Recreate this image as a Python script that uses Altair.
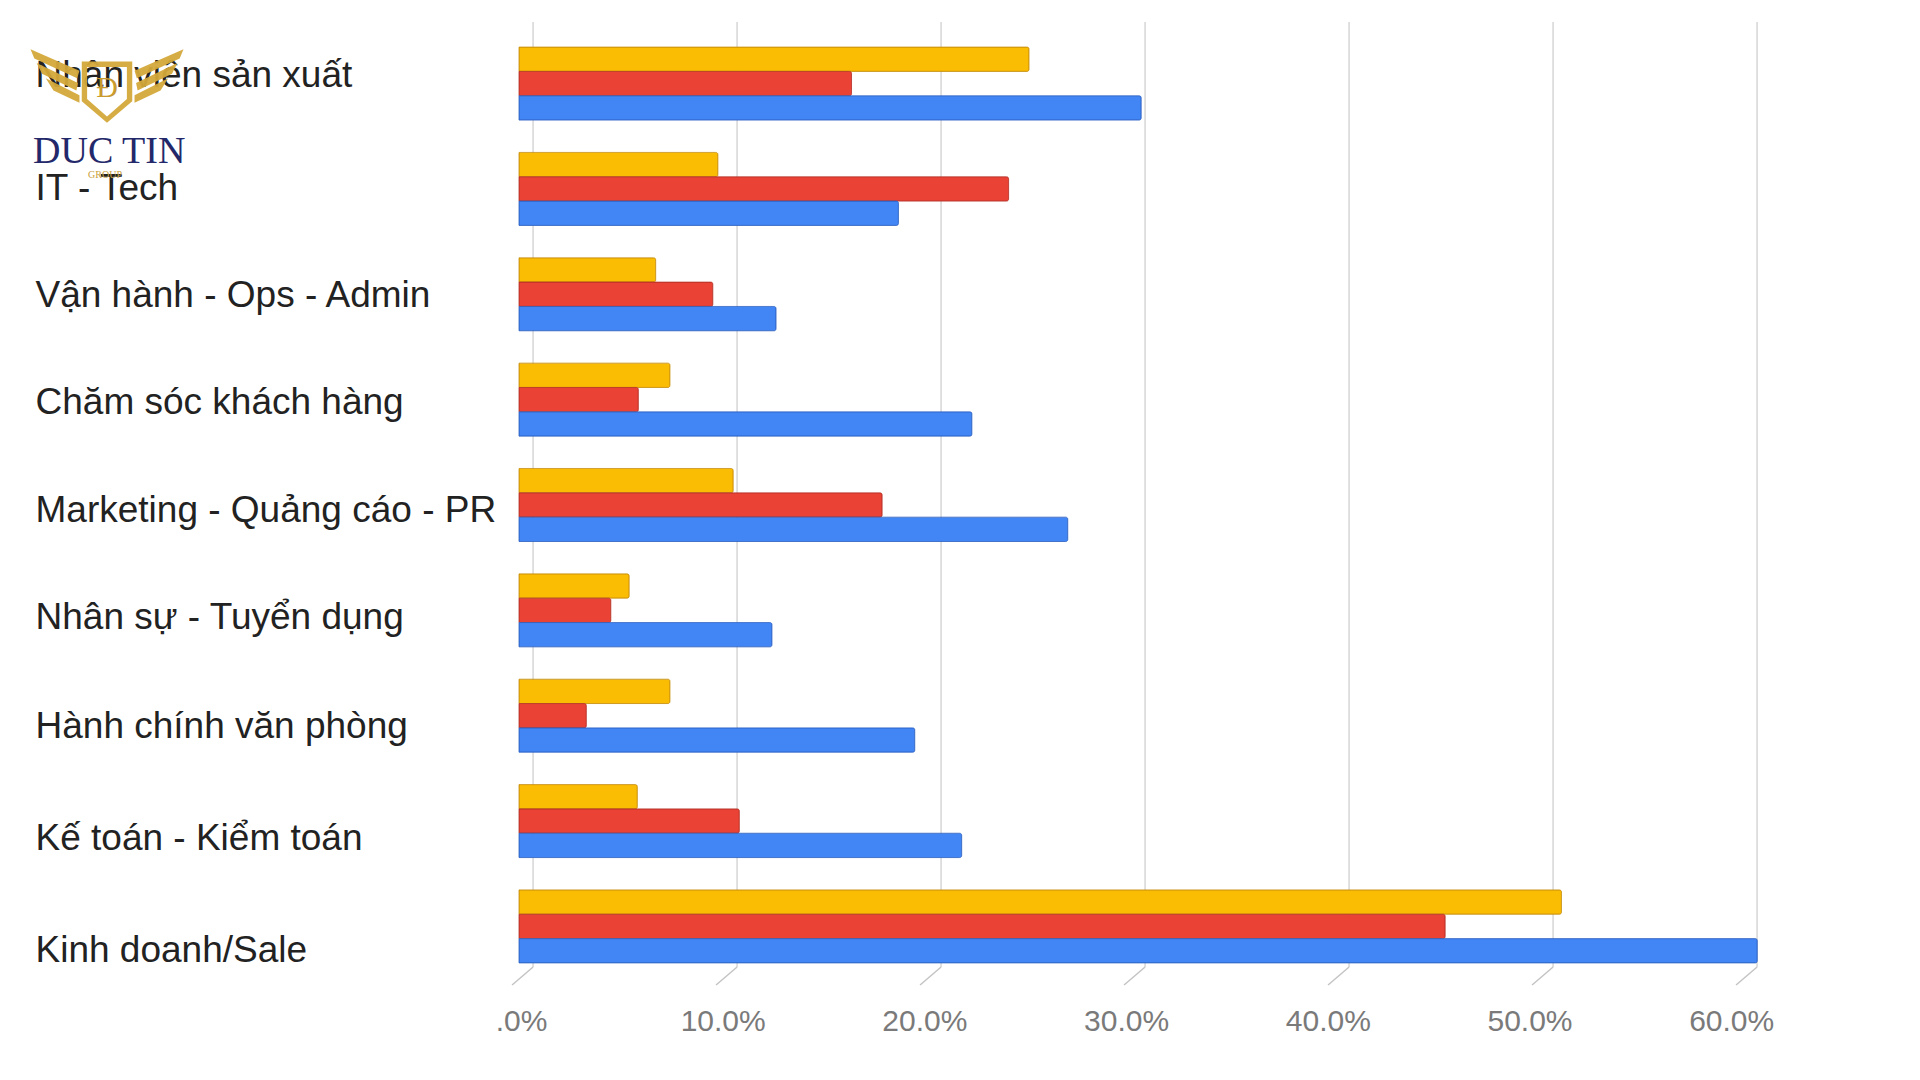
import altair as alt
import pandas as pd

categories = [
    "Nhân viên sản xuất",
    "IT - Tech",
    "Vận hành - Ops - Admin",
    "Chăm sóc khách hàng",
    "Marketing - Quảng cáo - PR",
    "Nhân sự - Tuyển dụng",
    "Hành chính văn phòng",
    "Kế toán - Kiểm toán",
    "Kinh doanh/Sale",
]
series_names = ["Series 1", "Series 2", "Series 3"]
yellow_vals = [25.0, 9.75, 6.7, 7.4, 10.5, 5.4, 7.4, 5.8, 51.1]
red_vals = [16.3, 24.0, 9.5, 5.85, 17.8, 4.5, 3.3, 10.8, 45.4]
blue_vals = [30.5, 18.6, 12.6, 22.2, 26.9, 12.4, 19.4, 21.7, 60.7]
tick_values = [0.0, 0.1, 0.2, 0.3, 0.4, 0.5, 0.6]
series_colors = ["#FBBC04", "#EA4335", "#4285F4"]
series_edges = ["#c8900c", "#b93228", "#2f64c4"]
label_shift = [-8, 0, 2, 3, 6, 8, 11, 18, 25]

rows = []
for s, vals in zip(series_names, [yellow_vals, red_vals, blue_vals]):
    for c, v in zip(categories, vals):
        rows.append({"category": c, "series": s, "value": v / 100.0})
df = pd.DataFrame(rows)
ticks_df = pd.DataFrame({"tick": tick_values})

xscale = alt.Scale(domain=[0, 0.6], nice=False)
xaxis = alt.Axis(
    values=tick_values,
    labelExpr="datum.value == 0 ? '.0%' : format(datum.value, '.1%')",
    grid=False,
    domain=False,
    ticks=False,
    labelFlush=False,
    labelFontSize=30,
    labelColor="#7a7a7a",
    labelFont="Liberation Sans",
    labelPadding=22,
    labelOffset={"expr": "2 - datum.value * 23"},
    title=None,
)

cat_list = "[" + ",".join("'" + c + "'" for c in categories) + "]"
shift_list = "[" + ",".join(str(v) for v in label_shift) + "]"
y_label_offset = {"expr": shift_list + "[indexof(" + cat_list + ", datum.value)]"}

grid = alt.Chart(ticks_df).transform_calculate(
    gx="datum.tick + 0.0069"
).mark_rule(color="#d6d6d6", strokeWidth=1.5).encode(
    x=alt.X("gx:Q", scale=xscale, axis=xaxis),
    y=alt.value(-4),
    y2=alt.value(941),
)

tick_marks = alt.Chart(ticks_df).transform_calculate(
    gx="datum.tick + 0.0069", tx="datum.tick - 0.0034"
).mark_rule(color="#c4c4c4", strokeWidth=1.5).encode(
    x=alt.X("gx:Q", scale=xscale, axis=xaxis),
    x2="tx:Q",
    y=alt.value(941),
    y2=alt.value(959),
)

bars = alt.Chart(df).mark_bar(cornerRadiusEnd=2, strokeWidth=1, strokeOpacity=0.8).encode(
    x=alt.X("value:Q", scale=xscale, axis=xaxis),
    y=alt.Y(
        "category:N",
        sort=categories,
        scale=alt.Scale(paddingInner=0.307, paddingOuter=0.2),
        axis=alt.Axis(
            title=None,
            ticks=False,
            domain=False,
            labelAlign="left",
            labelPadding=484,
            labelFontSize=37,
            labelColor="#222222",
            labelFont="Liberation Sans",
            labelLimit=700,
            labelOffset=y_label_offset,
        ),
    ),
    yOffset=alt.YOffset("series:N", sort=series_names, scale=alt.Scale(paddingInner=0)),
    color=alt.Color(
        "series:N",
        scale=alt.Scale(domain=series_names, range=series_colors),
        legend=None,
    ),
    stroke=alt.Stroke(
        "series:N",
        scale=alt.Scale(domain=series_names, range=series_edges),
        legend=None,
    ),
)

logo_df = pd.DataFrame({"t": ["DUC TIN"]})
group_df = pd.DataFrame({"t": ["GROUP"]})
mono_df = pd.DataFrame({"t": ["Đ"]})
emblem_df = pd.DataFrame({"k": [1]})

emblem_path = (
    "M -1 -0.48 L -0.36 -0.2 L -0.39 -0.1 L -0.95 -0.36 Z "
    "M -0.92 -0.3 L -0.38 -0.04 L -0.4 0.06 L -0.85 -0.16 Z "
    "M -0.8 -0.1 L -0.36 0.12 L -0.36 0.22 L -0.7 0.06 Z "
    "M 1 -0.48 L 0.36 -0.2 L 0.39 -0.1 L 0.95 -0.36 Z "
    "M 0.92 -0.3 L 0.38 -0.04 L 0.4 0.06 L 0.85 -0.16 Z "
    "M 0.8 -0.1 L 0.36 0.12 L 0.36 0.22 L 0.7 0.06 Z "
    "M -0.33 -0.32 L 0.33 -0.32 L 0.33 0.2 L 0 0.48 L -0.33 0.2 Z "
    "M -0.26 -0.25 L -0.26 0.17 L 0 0.4 L 0.26 0.17 L 0.26 -0.25 Z"
)

emblem = alt.Chart(emblem_df).mark_point(
    shape=emblem_path, filled=True, color="#d4a93a", opacity=0.95, size=23409
).encode(x=alt.value(-412), y=alt.value(60))

mono = alt.Chart(mono_df).mark_text(
    font="Liberation Serif", fontSize=30, color="#c99a2e", align="center", baseline="middle"
).encode(x=alt.value(-412), y=alt.value(62), text="t:N")

logo_text = alt.Chart(logo_df).mark_text(
    font="Liberation Serif", fontSize=38, color="#23286a", align="left", baseline="alphabetic"
).encode(x=alt.value(-486), y=alt.value(137), text="t:N")

group_text = alt.Chart(group_df).mark_text(
    font="Liberation Serif", fontSize=10, color="#c9a13b", align="center", baseline="middle"
).encode(x=alt.value(-414), y=alt.value(149), text="t:N")

chart = alt.layer(grid, tick_marks, bars, emblem, mono, logo_text, group_text).properties(
    width=1224,
    height=958,
    autosize=alt.AutoSizeParams(type="none"),
    padding={"left": 519, "top": 26, "right": 177, "bottom": 96},
    background="white",
).configure_view(stroke=None)

chart.save("out.html", embed_options={"renderer": "svg", "actions": False})
